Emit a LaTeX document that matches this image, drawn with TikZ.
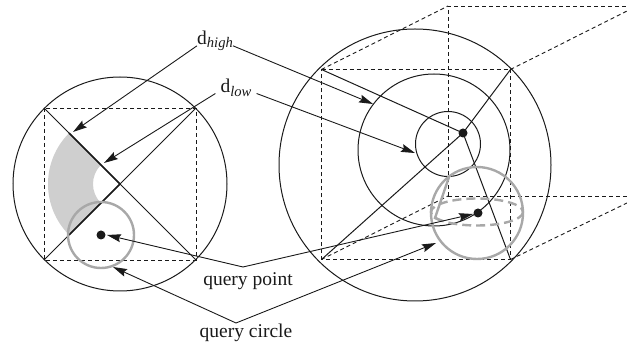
\documentclass[tikz,border=0pt]{standalone}
\usepackage{fontspec}
\setmainfont{Liberation Serif}
\usepackage{xcolor}
\usetikzlibrary{arrows.meta,calc}
\definecolor{graypale}{HTML}{CFCFCF}
\definecolor{graysphere}{HTML}{A8A8A8}
\definecolor{blackmain}{HTML}{1A1A1A}
\newcommand{\dlabel}[1]{d\raisebox{-3.5pt}{\fontsize{14.6}{15}\selectfont\itshape #1}}
\tikzset{
  every node/.append style={font=\fontsize{19.5}{22}\selectfont,inner sep=0pt,text=blackmain},
  outline/.style={blackmain,line width=1pt},
  hidden/.style={blackmain,line width=.9pt,dash pattern=on 4pt off 3pt},
  querygray/.style={graysphere,line width=2.4pt},
  pointer/.style={blackmain,line width=.9pt,-{Stealth[length=14pt,width=8pt,inset=2pt]}},
}
\begin{document}
\begin{tikzpicture}[x=1pt,y=-1pt]
  \useasboundingbox (0,0) rectangle (627,344);
  % left view
  \coordinate (lc) at (120,184);
  \coordinate (ltl) at (44,108);
  \coordinate (ltr) at (196,108);
  \coordinate (lbl) at (44,260);
  \coordinate (lbr) at (196,260);
  \coordinate (lq) at (101,235);
  \coordinate (lup) at ($(lc)+(225:72)$);
  \coordinate (ldown) at ($(lc)+(135:72)$);
  \fill[graypale] (lup) arc[start angle=225,end angle=135,radius=72]
    -- ($(lc)+(135:27)$) arc[start angle=135,end angle=225,radius=27] -- cycle;
  \draw[outline] (lc) circle (107);
  \draw[hidden] (ltl) rectangle (lbr);
  \draw[outline] (ltl) -- (lbr);
  \draw[outline] (ltr) -- (lbl);
  \draw[blackmain,line width=1.7pt] (lup) -- (lc) -- (ldown);
  \draw[querygray] (lq) circle (33);
  \fill[blackmain] (lq) circle (4.5);
  % right view
  \coordinate (rc) at (415,165);
  \coordinate (ftl) at (321.5,69.5);
  \coordinate (ftr) at (510.5,69.5);
  \coordinate (fbl) at (321.5,259.5);
  \coordinate (fbr) at (510.5,259.5);
  \coordinate (apex) at (463,133);
  \coordinate (rq) at (478,213);
  \draw[outline] (rc) circle (136);
  \draw[outline] (434,150) circle (76);
  \draw[outline] (448,144) circle (32.5);
  \draw[hidden] (ftl) -- (ftr) -- (fbr) -- (fbl) -- cycle;
  \draw[hidden] (448,196) -- (448,6) -- (627,6);
  \draw[hidden] (448,196) -- (627,196);
  \draw[hidden] (ftl) -- (448,6);
  \draw[hidden] (ftr) -- (627,11);
  \draw[hidden] (fbl) -- (448,196);
  \draw[hidden] (fbr) -- (627,203);
  \draw[outline] (ftl) -- (apex) -- (fbr);
  \draw[outline] (ftr) -- (apex) -- (fbl);
  \draw[querygray] (477,213) circle (46);
  \draw[querygray,dash pattern=on 9pt off 5pt] (477,212) ellipse (46 and 13.5);
  \draw[querygray] (449,177) -- (435,218) -- (442,221);
  \fill[blackmain] (apex) circle (4.5);
  \fill[blackmain] (rq) circle (4.5);
  % labels
  \node (dhigh) at (215,41) {\dlabel{high}};
  \node[inner xsep=5pt] (dlow) at (236,88) {\dlabel{low}};
  \node (qpoint) at (248,281) {query point};
  \node (qcircle) at (246,333) {query circle};
  \coordinate (pointbend) at (243,267);
  \coordinate (circlebend) at (236,323);
  \draw[pointer] (dhigh.195) -- (73,132);
  \draw[pointer] (dhigh.-15) -- (373,104);
  \draw[pointer] (dlow.195) -- (104,163);
  \draw[pointer] (dlow.-15) -- (415,153);
  \draw[pointer] (pointbend) -- (107,235);
  \draw[pointer] (pointbend) -- (473,214);
  \draw[pointer] (circlebend) -- (113,267);
  \draw[pointer] (circlebend) -- (436,243);
\end{tikzpicture}
\end{document}
